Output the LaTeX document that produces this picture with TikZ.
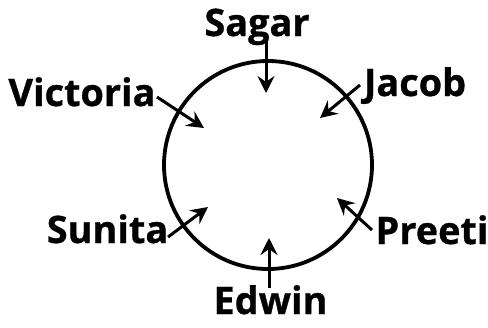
\documentclass[tikz,border=0pt]{standalone}
\usepackage{fontspec}
\setmainfont{Open Sans}
\newfontfamily\lblfont{Open Sans}[BoldFeatures={FakeBold=0.8}]
\usetikzlibrary{arrows.meta}
\tikzset{
  lbl/.style={font=\lblfont\fontsize{38}{38}\selectfont\bfseries, anchor=base, inner sep=0pt},
  arr/.style={line width=3bp, -{Stealth[length=17bp, width=17bp, inset=6bp]}},
  ring/.style={line width=3.8bp}
}
\begin{document}
\begin{tikzpicture}[x=1bp, y=-1bp]
\useasboundingbox (0,0) rectangle (488,327);
\node[ring, draw, circle, minimum size=208bp, inner sep=0pt] (c) at (268,165) {};
\node[lbl] (sagar) at (257,36) {Sagar};
\node[lbl] (jacob) at (415,96) {Jacob};
\node[lbl] (victoria) at (82,106) {Victoria};
\node[lbl] (sunita) at (107.5,243) {Sunita};
\node[lbl] (preeti) at (432,244) {Preeti};
\node[lbl] (edwin) at (270.5,314) {Edwin};
\coordinate (sagarS) at (266,38);
\coordinate (sagarT) at (266,93);
\coordinate (jacobS) at (360,85);
\coordinate (jacobT) at (320,118);
\coordinate (victoriaS) at (157,97);
\coordinate (victoriaT) at (204,128);
\coordinate (sunitaS) at (168,237);
\coordinate (sunitaT) at (208,207);
\coordinate (preetiS) at (372,230);
\coordinate (preetiT) at (337,198);
\coordinate (edwinS) at (269,288);
\coordinate (edwinT) at (269,238);
\draw[arr] (sagarS) -- (sagarT);
\draw[arr] (jacobS) -- (jacobT);
\draw[arr] (victoriaS) -- (victoriaT);
\draw[arr] (sunitaS) -- (sunitaT);
\draw[arr] (preetiS) -- (preetiT);
\draw[arr] (edwinS) -- (edwinT);
\end{tikzpicture}
\end{document}
